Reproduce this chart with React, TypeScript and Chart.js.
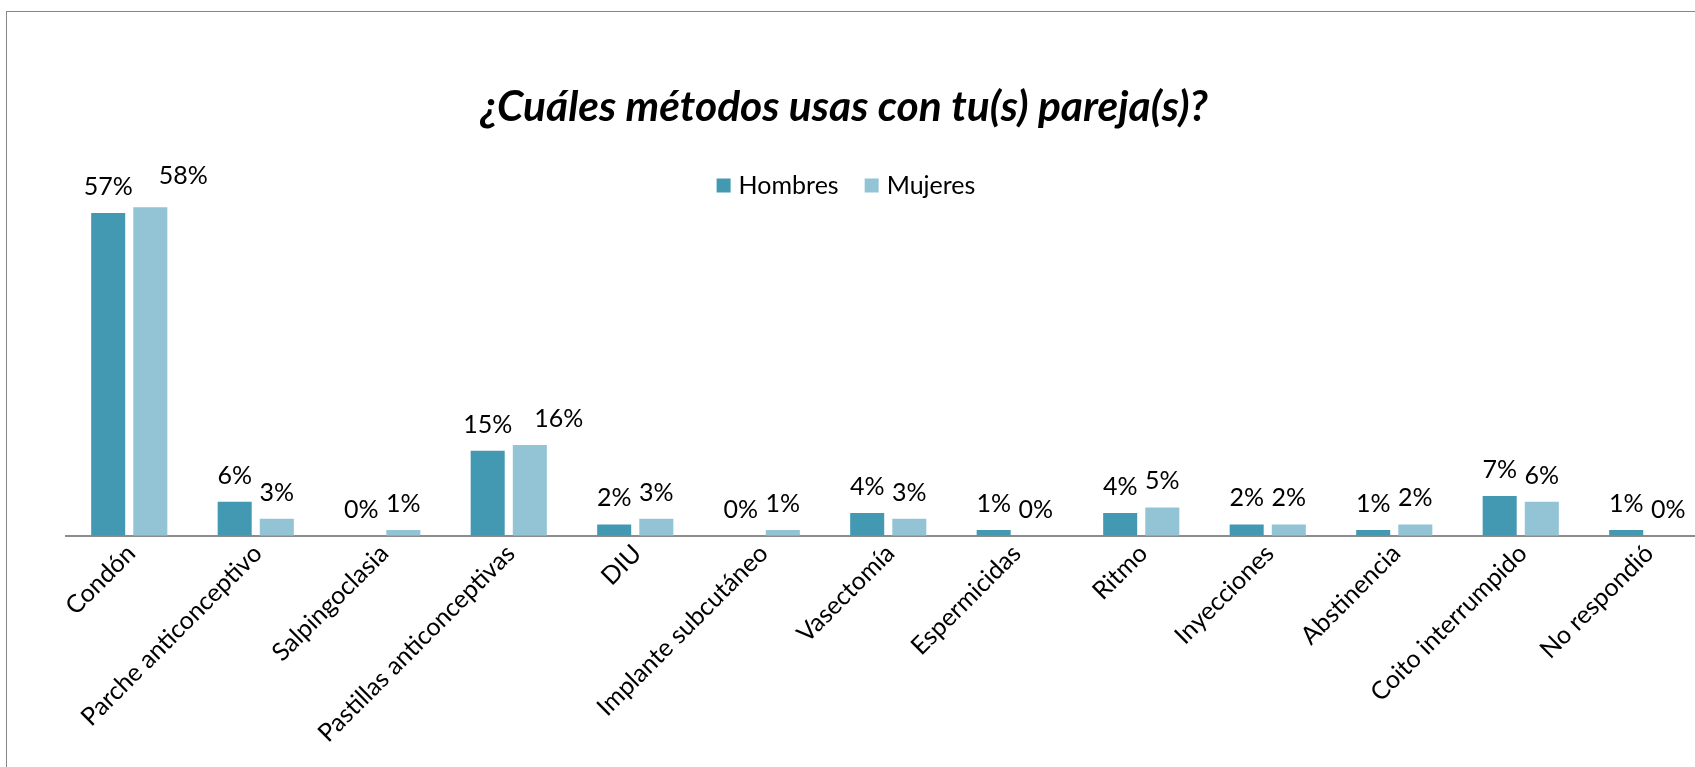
import React, { useEffect, useRef } from "react";
import { Chart, registerables } from "chart.js";

Chart.register(...registerables);

const categories = [
  "Condón",
  "Parche anticonceptivo",
  "Salpingoclasia",
  "Pastillas anticonceptivas",
  "DIU",
  "Implante subcutáneo",
  "Vasectomía",
  "Espermicidas",
  "Ritmo",
  "Inyecciones",
  "Abstinencia",
  "Coito interrumpido",
  "No respondió",
];
const hombres = [57, 6, 0, 15, 2, 0, 4, 1, 4, 2, 1, 7, 1];
const mujeres = [58, 3, 1, 16, 3, 1, 3, 0, 5, 2, 2, 6, 0];
const seriesNames = ["Hombres", "Mujeres"];
const seriesColors = ["#4399B1", "#93C4D5"];
const chartTitle = "¿Cuáles métodos usas con tu(s) pareja(s)?";

const W = 1740;
const H = 767;
const FONT = "Lato";
const AXIS_Y = 535.7;
const PLOT_LEFT = 66;
const PLOT_RIGHT = 1710.5;
const Y_MAX = 60;
const PX_PER_UNIT = 5.661;

// manual nudges of a few data labels (datasetIndex:index -> [dx, dy])
const labelNudges: Record<string, [number, number]> = {
  "1:0": [33, -5],
  "1:3": [29, 0],
};

const dataLabelPlugin = {
  id: "dataLabels",
  afterDatasetsDraw(chart: any) {
    const ctx = chart.ctx;
    ctx.save();
    ctx.font = `25px ${FONT}`;
    ctx.fillStyle = "#000";
    ctx.textAlign = "center";
    ctx.textBaseline = "alphabetic";
    chart.data.datasets.forEach((ds: any, di: number) => {
      const meta = chart.getDatasetMeta(di);
      meta.data.forEach((el: any, i: number) => {
        const v = ds.data[i];
        const n = labelNudges[`${di}:${i}`] || [0, 0];
        ctx.fillText(`${v}%`, el.x + n[0], el.y - 18 + n[1]);
      });
    });
    ctx.restore();
  },
};

const titleLegendPlugin = {
  id: "titleLegend",
  afterDraw(chart: any) {
    const ctx = chart.ctx;
    ctx.save();
    // title
    ctx.font = `italic bold 42.5px ${FONT}`;
    ctx.fillStyle = "#000";
    ctx.textAlign = "center";
    ctx.textBaseline = "alphabetic";
    ctx.fillText(chartTitle, 844, 121);
    // legend
    ctx.font = `25px ${FONT}`;
    const box = 14;
    const gap = 8;
    const spacing = 26;
    const items = chart.data.datasets.map((ds: any) => ({
      label: ds.label,
      color: ds.backgroundColor,
      w: ctx.measureText(ds.label).width,
    }));
    const total =
      items.reduce((a: number, it: any) => a + box + gap + it.w, 0) +
      spacing * (items.length - 1);
    let x = 846 - total / 2;
    ctx.textAlign = "left";
    items.forEach((it: any) => {
      ctx.fillStyle = it.color;
      ctx.fillRect(x, 178.5, box, box);
      ctx.fillStyle = "#000";
      ctx.fillText(it.label, x + box + gap, 194);
      x += box + gap + it.w + spacing;
    });
    ctx.restore();
  },
};

export default function App() {
  const ref = useRef<HTMLCanvasElement | null>(null);

  useEffect(() => {
    if (!ref.current) return;
    Chart.defaults.font.family = FONT;
    const chart = new Chart(ref.current, {
      type: "bar",
      data: {
        labels: categories,
        datasets: [
          {
            label: seriesNames[0],
            data: hombres,
            backgroundColor: seriesColors[0],
            borderWidth: 0,
            categoryPercentage: 0.666,
            barPercentage: 0.808,
          },
          {
            label: seriesNames[1],
            data: mujeres,
            backgroundColor: seriesColors[1],
            borderWidth: 0,
            categoryPercentage: 0.666,
            barPercentage: 0.808,
          },
        ],
      },
      options: {
        responsive: false,
        animation: false,
        devicePixelRatio: 1,
        layout: {
          padding: {
            left: PLOT_LEFT,
            right: W - PLOT_RIGHT,
            top: AXIS_Y - Y_MAX * PX_PER_UNIT,
            bottom: 0,
          },
        },
        plugins: {
          legend: { display: false },
          title: { display: false },
          tooltip: { enabled: false },
        },
        scales: {
          x: {
            grid: { display: false, drawTicks: false },
            border: { display: true, color: "#8c8c8c", width: 2 },
            ticks: {
              autoSkip: false,
              maxRotation: 45,
              minRotation: 45,
              font: { family: FONT, size: 25 },
              color: "#000",
              padding: 3,
              labelOffset: 2,
            },
            afterFit: (s: any) => {
              s.height = H - AXIS_Y;
            },
          },
          y: { display: false, min: 0, max: Y_MAX },
        },
      },
      plugins: [dataLabelPlugin, titleLegendPlugin],
    });
    return () => chart.destroy();
  }, []);

  return (
    <div
      style={{
        position: "fixed",
        left: 0,
        top: 0,
        width: 1695,
        height: 767,
        overflow: "hidden",
        background: "#fff",
      }}
    >
      <canvas
        ref={ref}
        width={W}
        height={H}
        style={{ position: "absolute", left: 0, top: 0, width: W, height: H }}
      />
      <div
        style={{
          position: "absolute",
          left: 6,
          top: 11,
          width: 3000,
          height: 3000,
          borderLeft: "1px solid #868686",
          borderTop: "1px solid #868686",
          pointerEvents: "none",
        }}
      />
    </div>
  );
}
